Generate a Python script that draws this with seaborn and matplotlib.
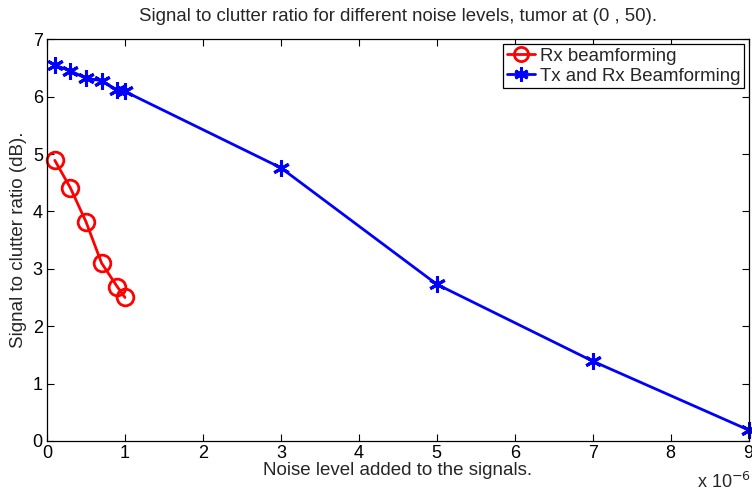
import matplotlib
matplotlib.use("Agg")
import matplotlib.pyplot as plt
import seaborn as sns
import pandas as pd

# Noise levels (in units of 1e-6) and signal-to-clutter ratios (dB)
rx_noise = [0.1, 0.3, 0.5, 0.7, 0.9, 1.0]
rx_scr = [4.89, 4.41, 3.82, 3.10, 2.69, 2.50]

txrx_noise = [0.1, 0.3, 0.5, 0.7, 0.9, 1.0, 3.0, 5.0, 7.0, 9.0]
txrx_scr = [6.55, 6.45, 6.32, 6.28, 6.11, 6.09, 4.76, 2.73, 1.39, 0.19]

series_names = ["Rx beamforming", "Tx and Rx Beamforming"]
x_ticks = list(range(0, 10))
y_ticks = list(range(0, 8))

sns.set_style("ticks")
plt.rcParams["font.family"] = ["Liberation Sans", "DejaVu Sans"]
plt.rcParams["xtick.direction"] = "in"
plt.rcParams["ytick.direction"] = "in"

rx_df = pd.DataFrame({"noise": rx_noise, "scr": rx_scr})
txrx_df = pd.DataFrame({"noise": txrx_noise, "scr": txrx_scr})

fig = plt.figure(figsize=(7.52, 4.91), dpi=100)
ax = fig.add_axes([0.0625, 0.102, 0.933, 0.818])

sns.lineplot(data=rx_df, x="noise", y="scr", color="#ff0000", marker="o",
             markersize=12, markerfacecolor="none", markeredgecolor="#ff0000",
             markeredgewidth=2, linewidth=2, sort=False, ax=ax,
             label=series_names[0], clip_on=False)
sns.lineplot(data=txrx_df, x="noise", y="scr", color="#0000ff", marker=(6, 2, 0),
             markersize=12, markeredgecolor="#0000ff", markeredgewidth=2.2,
             linewidth=2, sort=False, ax=ax, label=series_names[1], clip_on=False)

ax.set_xlim(0, 9)
ax.set_ylim(0, 7)
ax.set_xticks(x_ticks)
ax.set_yticks(y_ticks)
ax.tick_params(axis="both", labelsize=13, length=5, width=0.8, top=True, right=True,
               colors="black", pad=3)
for s in ax.spines.values():
    s.set_visible(True)
    s.set_linewidth(0.9)
    s.set_color("black")

ax.set_title("Signal to clutter ratio for different noise levels, tumor at (0 , 50).",
             fontsize=13.4, pad=13)
ax.set_xlabel("Noise level added to the signals.", fontsize=13.5, labelpad=0)
ax.set_ylabel("Signal to clutter ratio (dB).", fontsize=13.5, labelpad=4)

fig.text(0.999, 0.006, r"x 10$^{-6}$", ha="right", va="baseline", fontsize=13)

leg = ax.legend(loc="upper right", fontsize=13.4, frameon=True, fancybox=False,
                edgecolor="black", framealpha=1, handlelength=1.5, handletextpad=0.25,
                borderpad=0.2, labelspacing=0.15, borderaxespad=0.25, markerscale=0.85)
leg.get_frame().set_linewidth(0.9)

fig.savefig("out.png", dpi=100)
